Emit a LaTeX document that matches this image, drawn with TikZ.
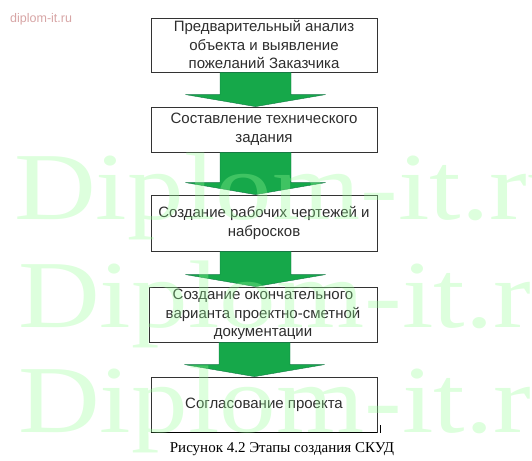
\documentclass[tikz,border=0pt]{standalone}
\usepackage{fontspec}
\setmainfont{Liberation Serif}
\newfontfamily\arialf{Liberation Sans}
\usetikzlibrary{calc}
\definecolor{agreen}{RGB}{22,168,74}
\definecolor{aedge}{RGB}{20,120,70}
\definecolor{boxtext}{RGB}{45,45,45}
\definecolor{wmark}{RGB}{150,255,150}
\definecolor{wpink}{RGB}{215,165,165}
\tikzset{
  stagebox/.style={draw=black!80, line width=0.8pt, minimum width=226pt, align=center,
    font=\arialf\fontsize{15}{18.5}\selectfont, text=boxtext, inner sep=0pt},
  flowarrow/.style={fill=agreen, draw=aedge, line width=0.4pt},
  wmtext/.style={font=\fontsize{96}{96}\selectfont, text=wmark, opacity=0.32, anchor=base west, inner sep=0pt},
}
\newcommand\flowarr[2]{%
  \path[flowarrow] let \p1=(#1.south), \p2=(#2.north) in
    (\x1-44pt,\y1) -- (\x1-44pt,\y2+12pt) -- (\x1-78.5pt,\y2+12pt) -- (\x1-8.5pt,\y2)
    -- (\x1+61.5pt,\y2+12pt) -- (\x1+27pt,\y2+12pt) -- (\x1+27pt,\y1) -- cycle;}
\newcommand\wmword{\scalebox{1.18}[1]{Diplom-it.ru}}
\begin{document}
\begin{tikzpicture}[x=1pt,y=-1pt]
\useasboundingbox (0,0) rectangle (532,460);
\node[font=\arialf\fontsize{12.5}{14}\selectfont, text=wpink, anchor=west, inner sep=0pt] (wm0) at (10,19) {diplom-it.ru};
\node[stagebox, minimum height=54pt] (b1) at (264,45) {Предварительный анализ\\объекта и выявление\\пожеланий Заказчика};
\node[stagebox, minimum height=45pt] (b2) at (264,129.5) {\raisebox{-4pt}{\parbox{220pt}{\centering Составление технического\\задания}}};
\node[stagebox, minimum height=56pt] (b3) at (264,223) {Создание рабочих чертежей и\\набросков};
\node[stagebox, minimum height=55pt, minimum width=228pt] (b4) at (263,314.5) {Создание окончательного\\варианта проектно-сметной\\документации};
\node[stagebox, minimum height=55pt] (b5) at (264,404.5) {Согласование проекта};
\draw[line width=1.6pt, black] (b5.south west) -- (b5.south east);
\coordinate (cur1) at (380,425);
\coordinate (cur2) at (380,433);
\draw[line width=1pt] (cur1) -- (cur2);
\flowarr{b1}{b2}
\flowarr{b2}{b3}
\flowarr{b3}{b4}
\flowarr{b4}{b5}
\node[font=\fontsize{15}{16}\selectfont, inner sep=0pt] (cap) at (282,449) {Рисунок 4.2 Этапы создания СКУД};
\node[wmtext] (w1) at (14,219) {\wmword};
\node[wmtext] (w2) at (18,327) {\wmword};
\node[wmtext] (w3) at (18,432) {\wmword};
\end{tikzpicture}
\end{document}
